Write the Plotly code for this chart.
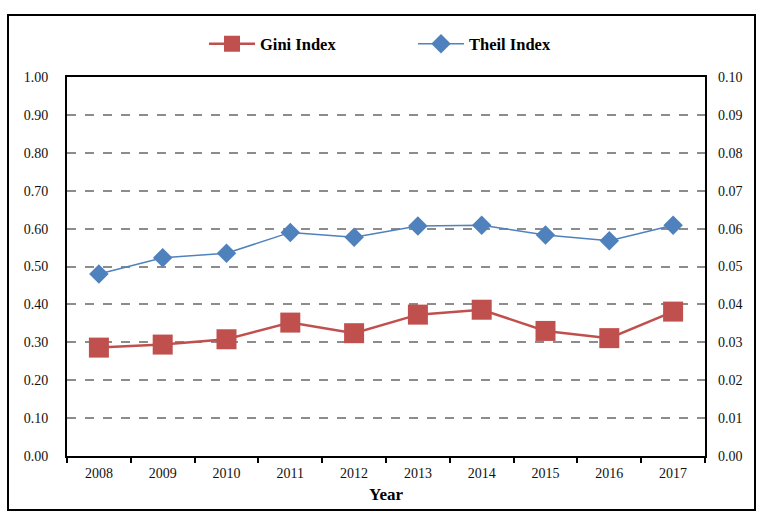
import plotly.graph_objects as go

years = ["2008", "2009", "2010", "2011", "2012", "2013", "2014", "2015", "2016", "2017"]
gini = [0.286, 0.294, 0.308, 0.352, 0.324, 0.373, 0.386, 0.330, 0.311, 0.381]
theil = [0.0480, 0.0523, 0.0535, 0.0590, 0.0577, 0.0607, 0.0609, 0.0583, 0.0568, 0.0609]
left_ticks = [0.0, 0.1, 0.2, 0.3, 0.4, 0.5, 0.6, 0.7, 0.8, 0.9, 1.0]
right_ticks = [0.00, 0.01, 0.02, 0.03, 0.04, 0.05, 0.06, 0.07, 0.08, 0.09, 0.10]

FONT = "Liberation Serif, Times New Roman, serif"

fig = go.Figure()
fig.add_trace(go.Scatter(
    x=years, y=gini, name="Gini Index", mode="lines+markers",
    line=dict(color="#C0504D", width=2.5),
    marker=dict(symbol="square", size=20, color="#C0504D"),
    yaxis="y",
))
fig.add_trace(go.Scatter(
    x=years, y=theil, name="Theil Index", mode="lines+markers",
    line=dict(color="#4F81BD", width=1.5),
    marker=dict(symbol="diamond", size=15, color="#4F81BD"),
    yaxis="y2",
))

L, R, T, B = 67, 62, 77, 67
W, H = 767, 523
pw, ph = W - L - R, H - T - B

fig.update_layout(
    width=W, height=H,
    margin=dict(l=L, r=R, t=T, b=B),
    paper_bgcolor="white", plot_bgcolor="white",
    font=dict(family=FONT, size=14, color="#000000"),
    showlegend=True,
    legend=dict(
        orientation="h", x=(204 - L) / pw, xanchor="left", y=(H - B - 44) / ph, yanchor="middle",
        font=dict(family=FONT, size=16.5, color="#000000", weight="bold"),
        entrywidth=148, itemwidth=46,
        bgcolor="rgba(0,0,0,0)",
    ),
    xaxis=dict(
        type="category", tickvals=years, ticktext=years, range=[-0.5, len(years) - 0.5],
        showline=True, linecolor="#000000", linewidth=2, mirror=True,
        ticks="outside", tickson="boundaries", ticklen=5, tickwidth=2, tickcolor="#000000",
        showgrid=False, zeroline=False, ticklabelstandoff=3,
        tickfont=dict(family=FONT, size=14, color="#111111"),
        title=dict(text="Year", font=dict(family=FONT, size=17, color="#000000", weight="bold"), standoff=8),
    ),
    yaxis=dict(
        range=[0, 1.0], tickvals=left_ticks, ticktext=[f"{v:.2f}" for v in left_ticks],
        showline=True, linecolor="#000000", linewidth=2, mirror=True,
        ticks="", ticklabelstandoff=14,
        showgrid=True, gridcolor="#8C8C8C", gridwidth=1.5, griddash="dash",
        zeroline=False,
        tickfont=dict(family=FONT, size=14, color="#111111"),
    ),
    yaxis2=dict(
        range=[0, 0.1], tickvals=right_ticks, ticktext=[f"{v:.2f}" for v in right_ticks],
        overlaying="y", side="right", showline=False, showgrid=False, zeroline=False,
        ticks="", ticklabelstandoff=12,
        tickfont=dict(family=FONT, size=14, color="#111111"),
    ),
    shapes=[dict(
        type="rect", xref="paper", yref="paper",
        x0=(8 - L) / pw, x1=(755 - L) / pw,
        y0=(H - B - 510) / ph, y1=(H - B - 15) / ph,
        line=dict(color="#000000", width=2), fillcolor="rgba(0,0,0,0)", layer="below",
    )],
)

fig.write_html("out.html", config={"displayModeBar": False},
               post_script="document.body.style.margin='0px';")
